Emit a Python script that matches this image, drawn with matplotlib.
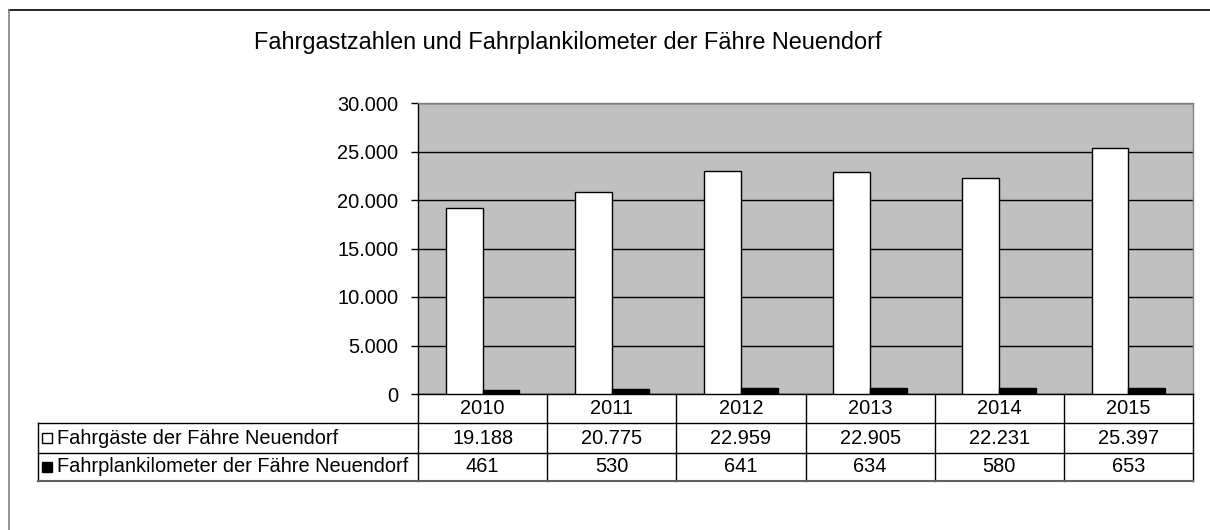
import matplotlib
matplotlib.use("Agg")
import matplotlib.pyplot as plt
from matplotlib.lines import Line2D
from matplotlib.ticker import FuncFormatter, MultipleLocator

plt.rcParams['font.family'] = ['Liberation Sans', 'DejaVu Sans']

# data
years = ['2010', '2011', '2012', '2013', '2014', '2015']
fahrgaeste = [19188, 20775, 22959, 22905, 22231, 25397]
fahrplankm = [461, 530, 641, 634, 580, 653]
series_names = ['Fahrgäste der Fähre Neuendorf', 'Fahrplankilometer der Fähre Neuendorf']
title = 'Fahrgastzahlen und Fahrplankilometer der Fähre Neuendorf'


def de(v):
    return f"{int(v):,}".replace(",", ".")


W, H = 1210, 530
fig = plt.figure(figsize=(W / 100, H / 100), dpi=100)

# plot area in pixels
L, R, T, B = 418, 1193, 103, 394
ax = fig.add_axes([L / W, (H - B) / H, (R - L) / W, (B - T) / H])
ax.set_facecolor('#c0c0c0')

x = list(range(len(years)))
bw = 1 / 3.5
ax.bar([i - bw / 2 for i in x], fahrgaeste, width=bw, color='white',
       edgecolor='black', linewidth=1, zorder=3)
ax.bar([i + bw / 2 for i in x], fahrplankm, width=bw, color='black',
       edgecolor='black', linewidth=1, zorder=3)

ax.set_xlim(-0.5, len(years) - 0.5)
ax.set_ylim(0, 30000)
ax.yaxis.set_major_locator(MultipleLocator(5000))
ax.yaxis.set_major_formatter(FuncFormatter(lambda v, p: de(v)))
ax.grid(axis='y', color='black', linewidth=1, zorder=1)
ax.set_xticks([])
ax.tick_params(axis='y', direction='out', length=5, width=1, labelsize=14.4, pad=9)

ax.spines['left'].set_color('black')
ax.spines['bottom'].set_color('black')
ax.spines['top'].set_color('#808080')
ax.spines['right'].set_color('#808080')
for s in ax.spines.values():
    s.set_linewidth(1)

# data table below the plot
colw = (R - L) / len(years)


def px_x(px):
    return -0.5 + (px - L) / colw


def px_y(py):
    return (B - py) / (B - T)


tr = ax.get_xaxis_transform()
y_r0, y_r1, y_r2 = px_y(423), px_y(453), px_y(481)
x_left = px_x(38)
kw = dict(transform=tr, clip_on=False, color='black', linewidth=1)

for i in range(len(years) + 1):
    ax.add_line(Line2D([i - 0.5, i - 0.5], [0, y_r2], **kw))
ax.add_line(Line2D([x_left, x_left], [y_r0, y_r2], **kw))
for yy in (y_r0, y_r1):
    ax.add_line(Line2D([x_left, len(years) - 0.5], [yy, yy], **kw))
ax.add_line(Line2D([x_left, len(years) - 0.5], [y_r2, y_r2], transform=tr,
                   clip_on=False, color='#606060', linewidth=1.5))

fs = 14.4
for i, yr in enumerate(years):
    ax.text(i, (0 + y_r0) / 2, yr, transform=tr, ha='center', va='center', fontsize=fs)
    ax.text(i, (y_r0 + y_r1) / 2, de(fahrgaeste[i]), transform=tr, ha='center',
            va='center', fontsize=fs)
    ax.text(i, (y_r1 + y_r2) / 2, de(fahrplankm[i]), transform=tr, ha='center',
            va='center', fontsize=fs)

for (name, face), (ya, yb) in zip(zip(series_names, ['white', 'black']),
                                  [(y_r0, y_r1), (y_r1, y_r2)]):
    ym = (ya + yb) / 2
    ax.plot([px_x(47)], [ym], marker='s', markersize=7.5, markerfacecolor=face,
            markeredgecolor='black', markeredgewidth=1, transform=tr, clip_on=False)
    ax.text(px_x(57), ym, name, transform=tr, ha='left', va='center', fontsize=fs)

# title
fig.text(568 / W, (H - 49) / H, title, ha='center', va='baseline', fontsize=16.9)

# outer frame
fig.add_artist(Line2D([9 / W, 1], [(H - 10) / H] * 2, transform=fig.transFigure,
                      color='black', linewidth=1.2))
fig.add_artist(Line2D([9 / W] * 2, [0, (H - 10) / H], transform=fig.transFigure,
                      color='#808080', linewidth=1.2))

fig.savefig('out.png', dpi=100)
